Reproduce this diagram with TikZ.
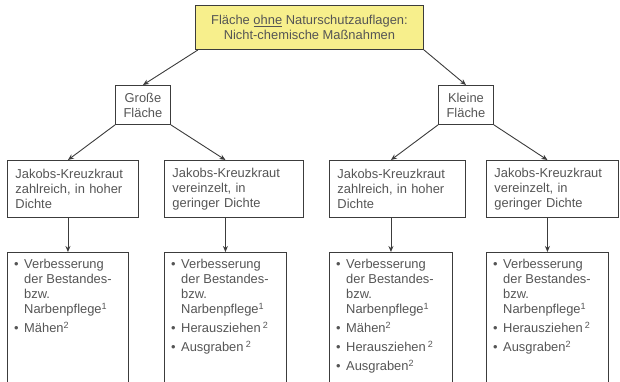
\documentclass[tikz,border=0pt]{standalone}
\usepackage{fontspec}
\setmainfont{Liberation Sans}
\usetikzlibrary{arrows.meta}
\definecolor{txt}{RGB}{85,85,85}
\definecolor{ln}{RGB}{60,60,60}
\definecolor{yel}{RGB}{247,239,140}
\newcommand{\bul}{\makebox[10pt][l]{\textbullet}}
\newcommand{\ind}{\hspace*{10pt}}
\begin{document}
\begin{tikzpicture}[x=1pt,y=-1pt,
  box/.style={draw=ln, line width=0.9pt, rectangle, inner sep=0pt},
  lbl/.style={text=txt, font=\fontsize{12.9}{15}\selectfont},
  jkbox/.style={box, lbl, minimum height=57pt, align=left, inner xsep=8pt},
  botbox/.style={box, minimum height=140pt, anchor=north west},
  list/.style={lbl, anchor=north west, align=left, inner sep=0pt},
  arr/.style={draw=ln, line width=0.9pt, -{Stealth[length=6pt,width=5pt]}},
]
\useasboundingbox (0,0) rectangle (620,382);

\node[box, fill=yel, minimum width=228pt, minimum height=44pt, anchor=north west, lbl, align=center] (top) at (195,5) {Fläche \underline{ohne} Naturschutzauflagen:\\Nicht-chemische Maßnahmen};

\node[box, lbl, minimum width=55pt, minimum height=39pt, anchor=north west, align=center] (gr) at (115,85) {Große\\Fläche};
\node[box, lbl, minimum width=55pt, minimum height=39pt, anchor=north west, align=center] (kl) at (438,85) {Kleine\\Fläche};

\node[jkbox, text width=115pt, anchor=north west] (jk1) at (7,160) {Jakobs-Kreuzkraut\\zahlreich, in hoher\\Dichte};
\node[jkbox, text width=123pt, anchor=north west] (jk2) at (164,160) {Jakobs-Kreuzkraut\\vereinzelt, in\\geringer Dichte};
\node[jkbox, text width=120pt, anchor=north west] (jk3) at (329,160) {Jakobs-Kreuzkraut\\zahlreich, in hoher\\Dichte};
\node[jkbox, text width=116pt, anchor=north west] (jk4) at (486,160) {Jakobs-Kreuzkraut\\vereinzelt, in\\geringer Dichte};

\node[botbox, minimum width=121pt] (bt1) at (7,252) {};
\node[botbox, minimum width=122pt] (bt2) at (164,252) {};
\node[botbox, minimum width=123pt] (bt3) at (329,252) {};
\node[botbox, minimum width=122pt] (bt4) at (486,252) {};

\node[list] (l1) at (14,259) {\bul Verbesserung\\\ind der Bestandes-\\\ind bzw.\\\ind Narbenpflege\textsuperscript{1}\\[4pt]\bul Mähen\textsuperscript{2}};
\node[list] (l2) at (171,259) {\bul Verbesserung\\\ind der Bestandes-\\\ind bzw.\\\ind Narbenpflege\textsuperscript{1}\\[4pt]\bul Herausziehen\,\textsuperscript{2}\\[4pt]\bul Ausgraben\,\textsuperscript{2}};
\node[list] (l3) at (336,259) {\bul Verbesserung\\\ind der Bestandes-\\\ind bzw.\\\ind Narbenpflege\textsuperscript{1}\\[4pt]\bul Mähen\textsuperscript{2}\\[4pt]\bul Herausziehen\,\textsuperscript{2}\\[4pt]\bul Ausgraben\textsuperscript{2}};
\node[list] (l4) at (493,259) {\bul Verbesserung\\\ind der Bestandes-\\\ind bzw.\\\ind Narbenpflege\textsuperscript{1}\\[4pt]\bul Herausziehen\,\textsuperscript{2}\\[4pt]\bul Ausgraben\textsuperscript{2}};

\draw[arr] ([xshift=3pt]top.south west) -- (gr.north);
\draw[arr] (top.south east) -- (kl.north);

\draw[arr] (gr.south west) -- (bt1.north |- jk1.north);
\draw[arr] (gr.south east) -- (bt2.north |- jk2.north);
\draw[arr] (kl.south west) -- (bt3.north |- jk3.north);
\draw[arr] (kl.south east) -- (bt4.north |- jk4.north);

\draw[arr] (bt1.north |- jk1.south) -- (bt1.north);
\draw[arr] (bt2.north |- jk2.south) -- (bt2.north);
\draw[arr] (bt3.north |- jk3.south) -- (bt3.north);
\draw[arr] (bt4.north |- jk4.south) -- (bt4.north);
\end{tikzpicture}
\end{document}
